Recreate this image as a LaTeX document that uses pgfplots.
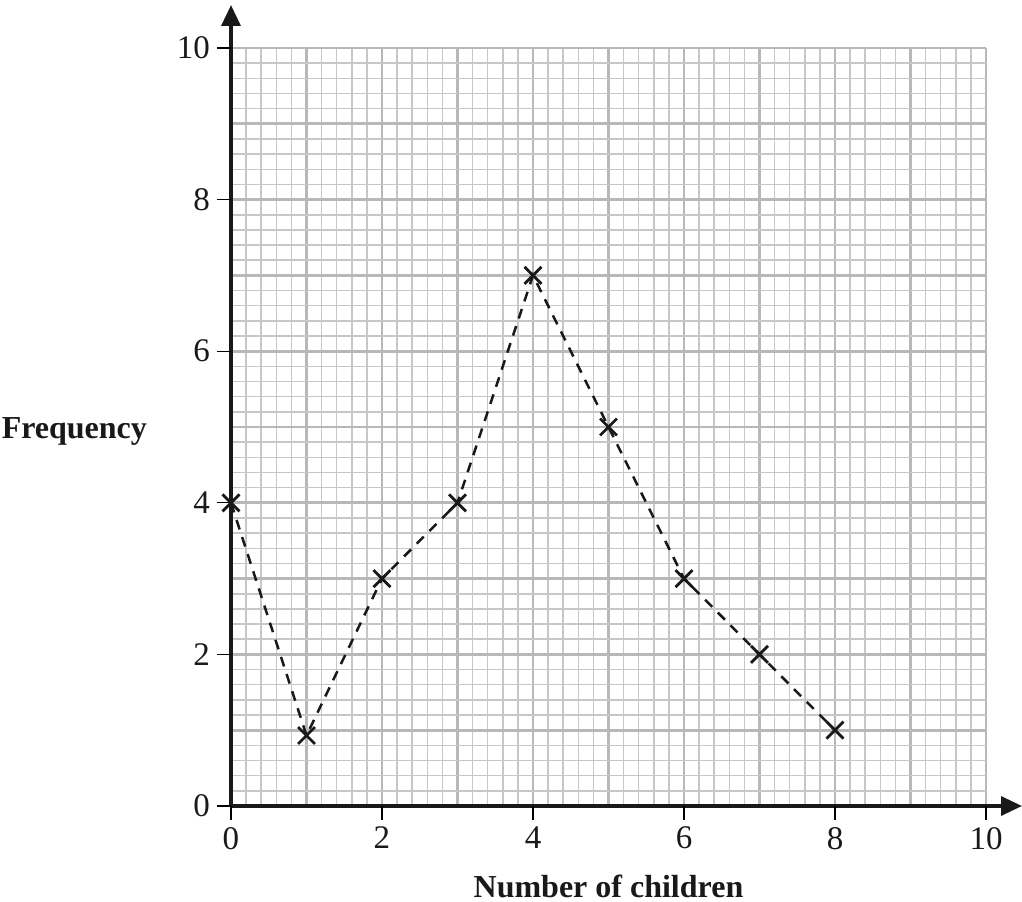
\documentclass[border=0pt]{standalone}
\usepackage{fontspec}
\setmainfont{Liberation Serif}
\usepackage{pgfplots}
\pgfplotsset{compat=1.18}
\usetikzlibrary{arrows.meta}
\begin{document}
\begin{tikzpicture}
\path[use as bounding box] (-115.5pt,-47.5pt) rectangle (395.5pt,403pt);
\begin{axis}[
  scale only axis, width=377.5pt, height=379pt,
  anchor=south west, at={(0pt,0pt)},
  xmin=0, xmax=10, ymin=0, ymax=10,
  axis lines=left,
  axis line style={line width=1.7pt, black!90},
  x axis line style={-{Triangle[length=10.5pt,width=9.5pt]}, shorten >=-18pt},
  y axis line style={-{Triangle[length=10.5pt,width=9.5pt]}, shorten >=-21.5pt},
  xtick={0,...,10}, ytick={0,...,10},
  xticklabels={}, yticklabels={},
  minor tick num=4,
  grid=both,
  major grid style={line width=1.4pt, color=black!28},
  minor grid style={line width=0.75pt, color=black!22},
  major tick length=0pt, minor tick length=0pt,
  tick align=outside,
  extra x ticks={0,2,4,6,8,10},
  extra y ticks={0,2,4,6,8,10},
  extra x tick labels={0,2,4,6,8,10},
  extra y tick labels={0,2,4,6,8,10},
  extra tick style={grid=none, major tick length=7pt, tick style={line width=0.6pt, black}},
  ticklabel style={font=\fontsize{16.5}{19}\selectfont, text=black!90},
  every axis x label/.style={at={(axis description cs:0.5,0)}, anchor=base, yshift=-45.5pt},
  every axis y label/.style={at={(axis description cs:0,0.4842)}, anchor=base east, xshift=-38.5pt},
  label style={font=\fontsize{16}{19}\selectfont\bfseries, text=black!90},
  xlabel={Number of children},
  ylabel={Frequency},
  clip=false,
]
\addplot[black!90, line width=1.25pt, dash pattern=on 5pt off 4pt,
  mark=x, mark size=6pt, mark options={solid, line width=1.4pt}]
  coordinates {(0,4) (1,0.93) (2,3) (3,4) (4,7) (5,5) (6,3) (7,2) (8,1)};
\end{axis}
\end{tikzpicture}
\end{document}
